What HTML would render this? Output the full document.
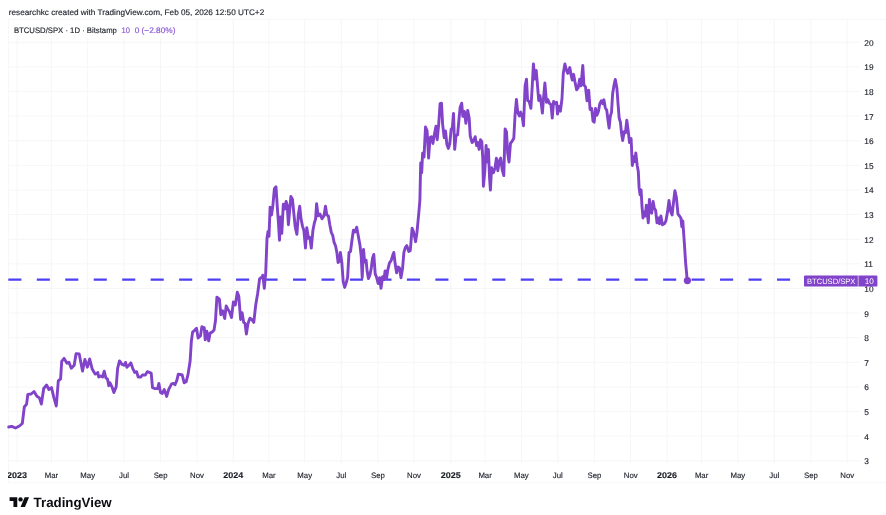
<!DOCTYPE html>
<html lang="en"><head><meta charset="utf-8"><title>BTCUSD/SPX chart</title>
<style>
html,body{margin:0;padding:0;background:#fff;}
body{width:886px;height:515px;overflow:hidden;}
svg{display:block;filter:blur(0.35px);}
text{font-family:"Liberation Sans",Arial,Helvetica,sans-serif;text-rendering:geometricPrecision;}
.k{stroke:#1b1e27;stroke-width:0.14px;}
.p{stroke:#8d5bd6;stroke-width:0.18px;}
</style></head><body>
<svg width="886" height="515" viewBox="0 0 886 515">
<rect width="886" height="515" fill="#ffffff"/>
<g stroke="#f7f7f8" stroke-width="1" fill="none">
<line x1="8" y1="19.5" x2="886" y2="19.5"/>
<line x1="8" y1="482.7" x2="886" y2="482.7"/>
<line x1="8.5" y1="19" x2="8.5" y2="483"/>
</g>
<g stroke="#f6f6f7" stroke-width="1" fill="none">
<line x1="9" y1="460.8" x2="860" y2="460.8"/>
<line x1="9" y1="436.2" x2="860" y2="436.2"/>
<line x1="9" y1="411.6" x2="860" y2="411.6"/>
<line x1="9" y1="387.0" x2="860" y2="387.0"/>
<line x1="9" y1="362.4" x2="860" y2="362.4"/>
<line x1="9" y1="337.7" x2="860" y2="337.7"/>
<line x1="9" y1="313.1" x2="860" y2="313.1"/>
<line x1="9" y1="288.5" x2="860" y2="288.5"/>
<line x1="9" y1="263.9" x2="860" y2="263.9"/>
<line x1="9" y1="239.3" x2="860" y2="239.3"/>
<line x1="9" y1="214.6" x2="860" y2="214.6"/>
<line x1="9" y1="190.0" x2="860" y2="190.0"/>
<line x1="9" y1="165.4" x2="860" y2="165.4"/>
<line x1="9" y1="140.8" x2="860" y2="140.8"/>
<line x1="9" y1="116.2" x2="860" y2="116.2"/>
<line x1="9" y1="91.5" x2="860" y2="91.5"/>
<line x1="9" y1="66.9" x2="860" y2="66.9"/>
<line x1="9" y1="42.3" x2="860" y2="42.3"/>
<line x1="17.0" y1="20" x2="17.0" y2="463"/>
<line x1="51.4" y1="20" x2="51.4" y2="463"/>
<line x1="87.7" y1="20" x2="87.7" y2="463"/>
<line x1="124.0" y1="20" x2="124.0" y2="463"/>
<line x1="160.6" y1="20" x2="160.6" y2="463"/>
<line x1="197.0" y1="20" x2="197.0" y2="463"/>
<line x1="233.3" y1="20" x2="233.3" y2="463"/>
<line x1="268.9" y1="20" x2="268.9" y2="463"/>
<line x1="304.7" y1="20" x2="304.7" y2="463"/>
<line x1="341.3" y1="20" x2="341.3" y2="463"/>
<line x1="377.9" y1="20" x2="377.9" y2="463"/>
<line x1="414.0" y1="20" x2="414.0" y2="463"/>
<line x1="450.8" y1="20" x2="450.8" y2="463"/>
<line x1="485.1" y1="20" x2="485.1" y2="463"/>
<line x1="521.4" y1="20" x2="521.4" y2="463"/>
<line x1="557.8" y1="20" x2="557.8" y2="463"/>
<line x1="594.4" y1="20" x2="594.4" y2="463"/>
<line x1="630.7" y1="20" x2="630.7" y2="463"/>
<line x1="667.0" y1="20" x2="667.0" y2="463"/>
<line x1="701.6" y1="20" x2="701.6" y2="463"/>
<line x1="737.9" y1="20" x2="737.9" y2="463"/>
<line x1="774.3" y1="20" x2="774.3" y2="463"/>
<line x1="810.9" y1="20" x2="810.9" y2="463"/>
<line x1="847.2" y1="20" x2="847.2" y2="463"/>
</g>
<rect x="9" y="20.2" width="170" height="17.8" fill="#ffffff"/>
<line x1="8.3" y1="279.65" x2="804" y2="279.65" stroke="#4d40f4" stroke-width="2.4" stroke-dasharray="13.1 15.37"/>
<path d="M8.7 427.0 L11.7 426.4 L15.5 428.0 L19.4 426.0 L22.3 423.5 L24.3 407.0 L26.6 404.1 L27.8 394.4 L31.1 394.0 L34.0 391.5 L36.9 396.3 L39.4 397.9 L41.4 404.1 L43.7 388.5 L46.6 385.0 L48.9 389.5 L51.5 387.6 L53.8 397.3 L56.3 406.0 L58.3 380.8 L60.6 378.8 L61.7 361.4 L64.1 358.4 L67.0 363.3 L68.9 362.3 L71.3 368.2 L74.2 365.2 L76.1 353.6 L79.2 354.0 L82.5 371.1 L84.9 359.4 L87.4 367.2 L89.7 359.0 L92.2 369.1 L95.1 374.0 L97.1 373.4 L97.8 372.5 L98.7 377.0 L100.7 376.0 L102.6 377.0 L104.2 371.2 L105.9 378.0 L107.5 378.9 L108.8 385.7 L110.0 382.8 L112.3 387.7 L113.9 392.5 L116.2 386.7 L117.6 368.3 L119.5 360.9 L122.0 364.4 L124.0 365.3 L125.5 362.4 L126.9 367.3 L128.8 365.3 L130.8 362.8 L132.7 368.3 L134.7 372.5 L136.6 371.7 L138.2 377.0 L140.9 377.0 L142.4 375.0 L145.3 375.0 L147.3 371.7 L151.2 373.1 L152.5 387.7 L155.0 388.6 L157.6 388.6 L158.9 383.4 L160.5 392.5 L162.2 393.5 L164.2 389.6 L166.7 396.4 L168.6 389.6 L171.6 383.8 L173.5 383.4 L175.0 384.8 L177.0 379.9 L178.3 374.1 L180.3 374.5 L182.2 375.0 L184.2 382.8 L186.1 381.8 L188.1 374.1 L188.7 370.0 L190.1 361.3 L191.3 341.8 L192.6 332.1 L194.6 330.2 L196.5 328.3 L198.1 338.0 L200.4 336.0 L201.9 326.7 L204.3 327.9 L205.2 339.9 L206.8 331.2 L208.7 340.9 L210.1 333.1 L212.0 332.1 L214.0 330.2 L215.5 320.5 L216.9 297.2 L219.4 299.1 L220.8 314.7 L222.7 310.8 L224.7 318.5 L226.2 305.9 L228.2 309.8 L229.5 311.7 L231.5 317.6 L233.4 302.0 L235.3 305.0 L237.3 292.3 L238.8 296.2 L240.6 319.5 L242.1 312.7 L243.7 322.4 L245.0 323.4 L246.4 334.1 L248.0 323.4 L249.9 318.2 L251.8 319.5 L253.8 322.4 L255.7 305.0 L257.7 293.3 L259.6 278.7 L262.5 276.8 L262.8 275.1 L264.3 288.3 L265.7 273.2 L267.0 238.3 L268.0 231.5 L269.0 236.3 L270.1 207.2 L271.5 215.0 L272.9 205.2 L274.4 188.7 L276.0 186.8 L277.3 207.2 L278.3 220.8 L279.5 240.2 L280.6 216.9 L281.8 233.4 L283.3 204.3 L284.7 209.1 L286.1 201.4 L287.2 205.2 L288.4 224.7 L289.6 211.1 L290.9 196.5 L292.5 199.4 L293.8 213.0 L295.2 226.6 L296.9 234.4 L298.3 215.0 L299.7 206.2 L301.0 218.8 L302.6 226.6 L303.9 230.5 L305.5 248.0 L306.8 227.6 L308.4 238.3 L309.8 237.3 L311.3 248.0 L312.9 230.5 L314.2 223.7 L315.6 218.8 L316.6 203.7 L318.1 215.9 L320.0 214.0 L322.0 218.8 L323.9 215.9 L325.5 206.2 L326.8 215.0 L328.4 215.9 L329.8 224.7 L331.3 232.4 L332.7 235.3 L334.0 242.1 L335.6 246.0 L336.9 252.8 L338.1 262.5 L339.3 261.2 L340.4 252.4 L341.8 262.1 L343.2 281.6 L344.7 287.4 L346.3 282.5 L347.6 277.7 L349.0 252.4 L350.5 251.5 L351.9 240.8 L353.4 230.1 L355.0 232.0 L356.7 227.2 L358.3 235.9 L359.9 244.7 L361.2 256.3 L362.2 277.7 L363.5 249.5 L364.7 262.1 L366.1 260.2 L367.0 269.9 L368.4 278.6 L370.0 274.8 L371.3 268.0 L372.5 258.3 L373.8 254.4 L375.2 273.8 L376.7 277.7 L378.1 283.5 L379.7 277.7 L381.0 288.3 L382.6 276.7 L383.9 279.6 L385.1 270.9 L386.5 278.6 L387.8 269.9 L389.4 263.1 L391.3 260.2 L392.7 255.3 L393.8 252.4 L395.2 264.1 L396.6 272.8 L398.1 267.0 L399.5 268.0 L401.0 277.7 L402.6 268.0 L403.9 252.4 L405.3 247.6 L406.8 245.6 L408.8 251.5 L410.3 250.5 L412.1 228.2 L413.6 232.0 L415.6 241.7 L416.9 233.0 L418.1 220.4 L419.1 209.7 L419.9 200.0 L420.7 163.0 L421.7 172.7 L422.6 153.3 L424.0 157.1 L425.5 127.0 L427.1 130.9 L428.6 158.1 L430.0 137.7 L431.4 136.7 L432.9 143.5 L434.5 133.8 L436.0 126.1 L437.2 139.7 L438.7 124.1 L440.1 103.7 L441.5 103.2 L442.6 124.1 L444.2 137.7 L445.5 130.9 L446.9 144.5 L448.4 148.4 L449.8 143.5 L451.2 129.0 L452.3 128.0 L453.5 113.4 L454.7 149.4 L456.0 135.8 L457.6 134.8 L458.9 120.2 L460.1 107.6 L461.7 103.2 L462.8 116.4 L464.4 111.5 L465.9 123.2 L467.7 110.5 L469.2 118.3 L470.2 135.8 L472.1 142.6 L473.7 140.6 L475.2 136.7 L476.6 145.5 L478.0 142.6 L479.1 149.4 L480.5 139.7 L481.8 141.6 L482.8 159.1 L483.4 186.3 L484.8 171.7 L486.1 145.5 L487.3 162.0 L488.4 149.4 L489.6 178.5 L490.4 190.1 L491.6 167.8 L493.5 172.7 L495.0 167.8 L496.4 158.1 L497.8 170.7 L499.3 161.0 L500.7 158.1 L502.2 169.8 L503.8 175.6 L505.1 129.0 L506.5 131.9 L507.7 153.3 L509.0 162.0 L510.5 143.2 L512.1 141.3 L513.8 138.3 L515.0 116.0 L516.4 99.5 L517.7 112.1 L519.3 116.0 L520.6 112.1 L522.2 117.0 L523.5 125.7 L525.1 85.9 L526.5 79.1 L527.6 100.5 L529.2 101.5 L530.9 108.3 L532.3 85.0 L533.4 64.0 L534.8 79.1 L536.2 70.4 L537.3 83.0 L538.7 100.5 L540.0 95.6 L541.2 103.4 L542.4 113.1 L543.5 98.5 L544.9 83.0 L546.5 102.4 L547.8 99.5 L549.4 103.4 L550.9 104.4 L552.3 118.0 L553.6 101.5 L555.2 103.4 L556.6 102.4 L557.5 114.1 L559.1 106.3 L560.4 111.2 L562.0 98.5 L563.3 73.3 L564.9 64.0 L566.5 70.4 L567.8 73.3 L569.8 67.5 L571.1 75.2 L572.3 80.1 L573.6 74.3 L575.0 82.0 L576.6 89.8 L578.1 87.9 L579.7 79.1 L581.0 85.9 L582.8 65.5 L583.9 85.0 L585.5 86.9 L587.0 100.8 L588.7 90.1 L590.1 109.5 L591.7 108.5 L593.0 121.2 L594.2 122.1 L595.5 108.5 L596.9 115.3 L598.4 111.5 L599.8 103.7 L601.4 100.8 L602.7 103.7 L603.9 99.8 L605.2 107.6 L606.8 110.5 L608.0 120.2 L609.1 128.0 L610.3 116.3 L611.5 112.4 L612.6 94.0 L614.0 85.2 L615.3 79.4 L616.9 88.2 L618.1 104.7 L619.2 118.3 L620.4 122.1 L621.6 133.8 L622.7 140.6 L624.1 131.8 L625.4 132.8 L626.8 120.2 L628.2 130.9 L629.5 142.5 L631.1 138.6 L632.3 165.5 L633.7 156.8 L634.9 161.7 L635.8 152.9 L637.2 165.5 L638.3 171.4 L639.1 187.9 L640.1 194.7 L641.1 189.8 L642.0 206.3 L643.0 218.0 L644.4 212.1 L645.3 216.0 L646.3 205.3 L647.3 212.1 L648.3 222.8 L649.4 199.5 L650.8 212.1 L651.7 213.1 L653.1 201.5 L654.3 208.3 L655.6 210.2 L657.0 222.8 L658.5 218.0 L659.5 223.8 L660.9 216.0 L662.4 224.8 L664.4 223.8 L665.9 220.9 L667.5 212.1 L669.0 200.5 L670.6 211.2 L672.1 215.0 L673.7 200.5 L674.9 190.8 L676.4 197.6 L678.0 214.1 L679.5 216.0 L680.9 218.0 L681.8 226.7 L682.8 220.9 L683.8 235.4 L684.8 250.0 L685.6 262.6 L687.0 277.6 L687.4 280.6" fill="none" stroke="#8143c9" stroke-width="2.9" stroke-linejoin="round" stroke-linecap="round"/>
<circle cx="687.4" cy="280.6" r="3.6" fill="#8143c9"/>
<text x="8.8" y="15.2" class="k" font-size="8.05" fill="#1b1e27" textLength="255.4" lengthAdjust="spacingAndGlyphs">researchkc created with TradingView.com, Feb 05, 2026 12:50 UTC+2</text>
<text x="13.9" class="k" y="32.55" font-size="8.0" fill="#1b1e27" textLength="103" lengthAdjust="spacingAndGlyphs">BTCUSD/SPX · 1D · Bitstamp</text>
<text class="p" x="121.5" y="32.55" font-size="8.0" fill="#8d5bd6" textLength="8.4" lengthAdjust="spacingAndGlyphs">10</text>
<text class="p" x="134.7" y="32.55" font-size="8.0" fill="#8d5bd6" textLength="40.7" lengthAdjust="spacingAndGlyphs">0 (−2.80%)</text>
<g class="k" font-size="8.3" fill="#1b1e27">
<text x="864.3" y="464.2">3</text>
<text x="864.3" y="439.6">4</text>
<text x="864.3" y="415.0">5</text>
<text x="864.3" y="390.3">6</text>
<text x="864.3" y="365.7">7</text>
<text x="864.3" y="341.1">8</text>
<text x="864.3" y="316.5">9</text>
<text x="864.3" y="291.9">10</text>
<text x="864.3" y="267.2">11</text>
<text x="864.3" y="242.6">12</text>
<text x="864.3" y="218.0">13</text>
<text x="864.3" y="193.4">14</text>
<text x="864.3" y="168.8">15</text>
<text x="864.3" y="144.1">16</text>
<text x="864.3" y="119.5">17</text>
<text x="864.3" y="94.9">18</text>
<text x="864.3" y="70.3">19</text>
<text x="864.3" y="45.6">20</text>
</g>
<g class="k" font-size="7.8" fill="#1b1e27" text-anchor="middle">
<text x="17.0" y="477.5" font-weight="bold" font-size="8.3" textLength="20" lengthAdjust="spacingAndGlyphs">2023</text>
<text x="51.4" y="477.5">Mar</text>
<text x="87.7" y="477.5">May</text>
<text x="124.0" y="477.5">Jul</text>
<text x="160.6" y="477.5">Sep</text>
<text x="197.0" y="477.5">Nov</text>
<text x="233.3" y="477.5" font-weight="bold" font-size="8.3" textLength="20" lengthAdjust="spacingAndGlyphs">2024</text>
<text x="268.9" y="477.5">Mar</text>
<text x="304.7" y="477.5">May</text>
<text x="341.3" y="477.5">Jul</text>
<text x="377.9" y="477.5">Sep</text>
<text x="414.0" y="477.5">Nov</text>
<text x="450.8" y="477.5" font-weight="bold" font-size="8.3" textLength="20" lengthAdjust="spacingAndGlyphs">2025</text>
<text x="485.1" y="477.5">Mar</text>
<text x="521.4" y="477.5">May</text>
<text x="557.8" y="477.5">Jul</text>
<text x="594.4" y="477.5">Sep</text>
<text x="630.7" y="477.5">Nov</text>
<text x="667.0" y="477.5" font-weight="bold" font-size="8.3" textLength="20" lengthAdjust="spacingAndGlyphs">2026</text>
<text x="701.6" y="477.5">Mar</text>
<text x="737.9" y="477.5">May</text>
<text x="774.3" y="477.5">Jul</text>
<text x="810.9" y="477.5">Sep</text>
<text x="847.2" y="477.5">Nov</text>
</g>
<rect x="0" y="465" width="8" height="16" fill="#fff"/>
<rect x="804" y="275.4" width="73.4" height="11.2" rx="1.2" fill="#8143c9"/>
<line x1="858.2" y1="275.4" x2="858.2" y2="286.6" stroke="#ffffff" stroke-opacity="0.75" stroke-width="0.8"/>
<text x="807" y="283.7" font-size="7.8" fill="#ffffff" textLength="48.4" lengthAdjust="spacingAndGlyphs">BTCUSD/SPX</text>
<text x="864.8" y="283.7" font-size="8.2" fill="#ffffff">10</text>
<g transform="translate(9.6 495.0) scale(0.548 0.55)" fill="#0c0d10">
<path d="M14 22H7V11H0V4h14v18zM28 22h-8l7.5-18h8L28 22z"/><circle cx="20" cy="8" r="4"/>
</g>
<text x="33.6" y="507.1" font-size="13.3" font-weight="bold" fill="#0c0d10">TradingView</text>
</svg>
</body></html>
